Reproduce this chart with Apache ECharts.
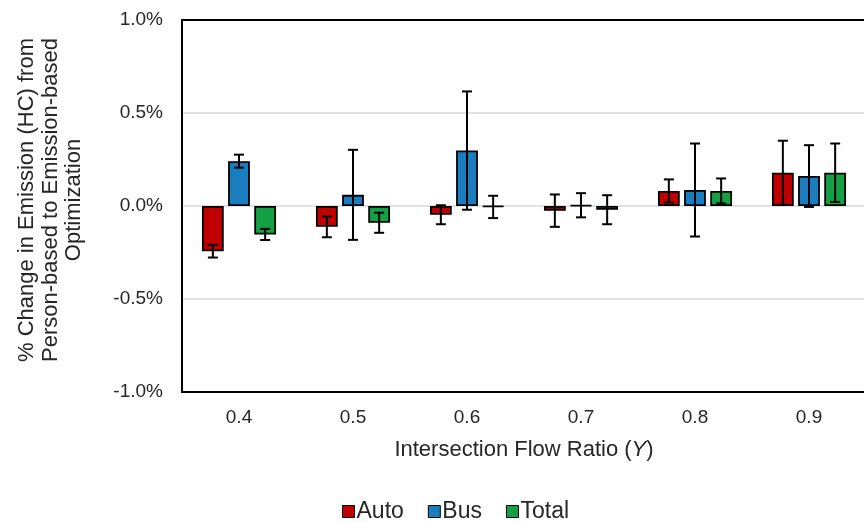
<!DOCTYPE html>
<html>
<head>
<meta charset="utf-8">
<script src="https://cdn.jsdelivr.net/npm/echarts@6/dist/echarts.min.js"></script>
<style>
  html, body { margin: 0; padding: 0; background: #fff; }
  #main { width: 864px; height: 522px; }
</style>
</head>
<body>
<div id="main"></div>
<script>
// values, in percent
var categories = ['0.4', '0.5', '0.6', '0.7', '0.8', '0.9'];
var autoVals = [-0.243, -0.112, -0.047, -0.025, 0.081, 0.179];
var busVals = [0.241, 0.060, 0.298, 0.004, 0.086, 0.161];
var totalVals = [-0.153, -0.090, -0.005, -0.020, 0.081, 0.179];
var autoErr = [0.034, 0.056, 0.051, 0.087, 0.062, 0.172];
var busErr = [0.035, 0.242, 0.318, 0.065, 0.250, 0.166];
var totalErr = [0.030, 0.054, 0.060, 0.078, 0.067, 0.157];

var colors = ['#C00000', '#1A7DBE', '#16A045'];
var font = 'Liberation Sans, Arial, sans-serif';
var catGap = 0.35, barGap = 0.2;

// error bar drawn at the same offset as the matching bar
function errorBars(seriesIndex) {
    return function (params, api) {
        var idx = api.value(0), mean = api.value(1), e = api.value(2);
        var cat = api.size([1, 0])[0];
        var band = cat * (1 - catGap);
        var bw = band / (3 + 2 * barGap);
        var off = -band / 2 + bw / 2 + seriesIndex * bw * (1 + barGap);
        var hi = api.coord([idx, mean + e]);
        var lo = api.coord([idx, mean - e]);
        var x = hi[0] + off, cap = 5;
        var st = { stroke: '#000', lineWidth: 2 };
        return {
            type: 'group',
            children: [
                { type: 'line', shape: { x1: x, y1: hi[1], x2: x, y2: lo[1] }, style: st },
                { type: 'line', shape: { x1: x - cap, y1: hi[1], x2: x + cap, y2: hi[1] }, style: st },
                { type: 'line', shape: { x1: x - cap, y1: lo[1], x2: x + cap, y2: lo[1] }, style: st }
            ]
        };
    };
}

function errData(vals, errs) {
    return vals.map(function (v, i) { return [i, v, errs[i]]; });
}

function bar(name, vals, color) {
    return {
        name: name,
        type: 'bar',
        data: vals,
        barGap: (barGap * 100) + '%',
        barCategoryGap: (catGap * 100) + '%',
        itemStyle: { color: color, borderColor: '#000', borderWidth: 1.8 },
        z: 2
    };
}

function err(vals, errs, i) {
    return {
        type: 'custom',
        renderItem: errorBars(i),
        data: errData(vals, errs),
        encode: { x: 0, y: 1 },
        z: 5,
        silent: true
    };
}

var myChart = echarts.init(document.getElementById('main'));

var option = {
    animation: false,
    textStyle: { fontFamily: font },
    grid: {
        left: 182, top: 20, right: -2, bottom: 130,
        outerBoundsMode: 'none',
        containLabel: false,
        show: true, borderColor: '#000', borderWidth: 2
    },
    legend: {
        data: ['Auto', 'Bus', 'Total'],
        top: 495,
        left: 337,
        icon: 'rect',
        itemWidth: 12,
        itemHeight: 12,
        itemGap: 24,
        textStyle: { fontSize: 23, color: '#262626', fontFamily: font, padding: [0, 0, 0, -3] },
        itemStyle: { borderColor: '#000', borderWidth: 1 }
    },
    xAxis: {
        type: 'category',
        data: categories,
        name: 'Intersection Flow Ratio ({i|Y})',
        nameLocation: 'middle',
        nameGap: 47,
        nameTextStyle: {
            fontSize: 22, color: '#262626', fontFamily: font,
            rich: { i: { fontStyle: 'italic', fontSize: 22, color: '#262626', fontFamily: font } }
        },
        axisLine: { onZero: false, lineStyle: { color: '#000', width: 2 } },
        axisTick: { show: false },
        axisLabel: { fontSize: 19, color: '#262626', margin: 16 }
    },
    yAxis: {
        type: 'value',
        min: -1,
        max: 1,
        interval: 0.5,
        name: '% Change in Emission (HC) from\nPerson-based to Emission-based\nOptimization',
        nameLocation: 'middle',
        nameRotate: 90,
        nameGap: 96,
        nameTextStyle: { fontSize: 22, color: '#262626', lineHeight: 23.5, fontFamily: font, padding: [0, 0, 0, 12] },
        axisLine: { show: true, lineStyle: { color: '#000', width: 2 } },
        axisTick: { show: false },
        splitLine: { showMinLine: false, showMaxLine: false, lineStyle: { color: '#D9D9D9', width: 1.5 } },
        axisLabel: {
            fontSize: 19, color: '#262626', margin: 19,
            formatter: function (v) { return v.toFixed(1) + '%'; }
        }
    },
    series: [
        bar('Auto', autoVals, colors[0]),
        bar('Bus', busVals, colors[1]),
        bar('Total', totalVals, colors[2]),
        err(autoVals, autoErr, 0),
        err(busVals, busErr, 1),
        err(totalVals, totalErr, 2)
    ]
};

myChart.setOption(option);
</script>
</body>
</html>
